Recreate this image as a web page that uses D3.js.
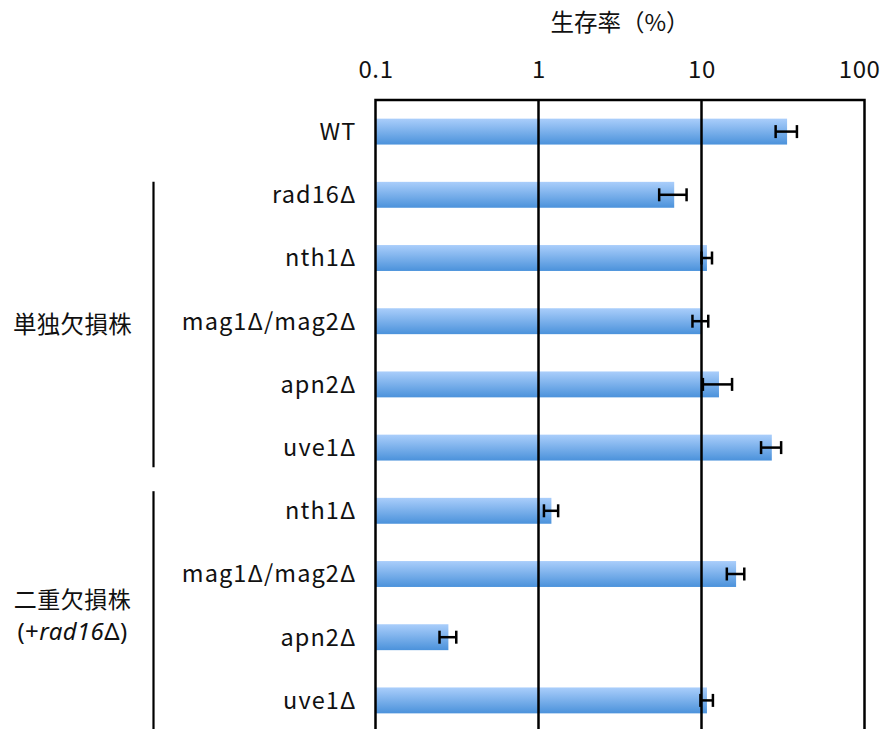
<!DOCTYPE html>
<html>
<head>
<meta charset="utf-8">
<script src="https://cdn.jsdelivr.net/npm/d3@7"></script>
<style>
  html, body { margin: 0; padding: 0; background: #fff; }
  svg text { font-family: "Noto Sans CJK JP", "Noto Sans", sans-serif; fill: #111; }
</style>
</head>
<body>
<svg id="chart" width="884" height="729"></svg>
<script>
// Survival rate (%) per strain, log scale
const strainIds   = ["wt", "rad16", "nth1", "mag", "apn2", "uve1", "nth1-d", "mag-d", "apn2-d", "uve1-d"];
const strainNames = ["WT", "rad16Δ", "nth1Δ", "mag1Δ/mag2Δ", "apn2Δ", "uve1Δ", "nth1Δ", "mag1Δ/mag2Δ", "apn2Δ", "uve1Δ"];
const survival    = [33.5, 6.8, 10.8, 9.9, 12.8, 27.0, 1.2, 16.3, 0.28, 10.8];
const survivalErr = [5.0, 1.3, 0.8, 1.1, 2.6, 3.8, 0.12, 2.0, 0.033, 0.95];
const tickValues  = [0.1, 1, 10, 100];
const tickLabels  = ["0.1", "1", "10", "100"];
const axisTitle   = "生存率（%）";
const groupFirst  = ["rad16", "nth1-d"];
const groupLast   = ["uve1", "uve1-d"];

const W = 884, H = 729;
const svg = d3.select("#chart");
const plotL = 375.5, plotR = 864.5, plotT = 100, plotB = 732;
const labelFont = "23.5px";
const labelSpacing = "1.1px";

const x = d3.scaleLog().domain([0.1, 100]).range([plotL, plotR]);
const y = d3.scaleBand().domain(strainIds).range([plotT, plotB])
  .paddingInner(0.59).paddingOuter(0.295);

// bar gradient
const defs = svg.append("defs");
const grad = defs.append("linearGradient").attr("id", "barGrad")
  .attr("x1", 0).attr("y1", 0).attr("x2", 0).attr("y2", 1);
grad.append("stop").attr("offset", "0%").attr("stop-color", "#aacefb");
grad.append("stop").attr("offset", "100%").attr("stop-color", "#4b92db");

const rows = strainIds.map((id, i) => ({ id, name: strainNames[i], v: survival[i], e: survivalErr[i] }));

// bars
svg.append("g").selectAll("rect").data(rows).join("rect")
  .attr("x", x(0.1))
  .attr("y", d => y(d.id))
  .attr("width", d => x(d.v) - x(0.1))
  .attr("height", y.bandwidth())
  .attr("fill", "url(#barGrad)");

// decade grid lines
svg.append("g").selectAll("line").data(tickValues.slice(1, -1)).join("line")
  .attr("x1", d => x(d)).attr("x2", d => x(d))
  .attr("y1", plotT).attr("y2", plotB)
  .attr("stroke", "#000").attr("stroke-width", 2.5);

// plot frame (left, top, right)
svg.append("path")
  .attr("d", `M${x(0.1)},${plotB}V${plotT}H${x(100)}V${plotB}`)
  .attr("fill", "none").attr("stroke", "#000").attr("stroke-width", 2.5);

// error bars
const eb = svg.append("g").attr("stroke", "#000").attr("stroke-width", 2.5);
rows.forEach(d => {
  const cy = y(d.id) + y.bandwidth() / 2;
  const x0 = x(d.v - d.e), x1 = x(d.v + d.e);
  eb.append("line").attr("x1", x0).attr("x2", x1).attr("y1", cy).attr("y2", cy);
  eb.append("line").attr("x1", x0).attr("x2", x0).attr("y1", cy - 6.5).attr("y2", cy + 6.5);
  eb.append("line").attr("x1", x1).attr("x2", x1).attr("y1", cy - 6.5).attr("y2", cy + 6.5);
});

// top axis labels
const axisG = svg.append("g").attr("transform", `translate(0,${plotT})`)
  .call(d3.axisTop(x).tickValues(tickValues).tickFormat((d, i) => tickLabels[i]).tickSize(0).tickPadding(22));
axisG.select(".domain").remove();
axisG.selectAll("text")
  .style("font-family", '"Noto Sans CJK JP", "Noto Sans", sans-serif')
  .style("font-size", "24px").style("letter-spacing", "0.6px").attr("fill", "#111");
axisG.selectAll(".tick").each(function (d) {
  const t = d3.select(this).select("text");
  const w = t.node().getComputedTextLength();
  const over = x(d) + w / 2 - (W - 4);
  if (over > 0) t.attr("dx", -over);
});

// axis title
svg.append("text").attr("x", (plotL + plotR) / 2).attr("y", 31)
  .attr("text-anchor", "middle").style("font-size", "23.5px").text(axisTitle);

// row labels
svg.append("g").selectAll("text").data(rows).join("text")
  .attr("x", plotL - 19)
  .attr("y", d => y(d.id) + y.bandwidth() / 2)
  .attr("dy", "0.36em")
  .attr("text-anchor", "end")
  .style("font-size", labelFont)
  .style("letter-spacing", labelSpacing)
  .text(d => d.name);

// group brackets
const bx = 153.5;
const mid = (a, b) => (y(a) + y.bandwidth() / 2 + y(b) + y.bandwidth() / 2) / 2;
const gap = mid(groupLast[0], groupFirst[1]);
const b1 = [y(groupFirst[0]), gap - 12];
const b2 = [gap + 12, plotB + 8];
svg.append("g").attr("stroke", "#000").attr("stroke-width", 2.2)
  .selectAll("line").data([b1, b2]).join("line")
  .attr("x1", bx).attr("x2", bx).attr("y1", d => d[0]).attr("y2", d => d[1]);

const gx = 72.5;
svg.append("text").attr("x", gx).attr("y", (b1[0] + b1[1]) / 2).attr("dy", "0.36em")
  .attr("text-anchor", "middle").style("font-size", labelFont).style("letter-spacing", "0.3px")
  .text("単独欠損株");

// two-line label for the double-deletion group
const c2 = (b2[0] + b2[1]) / 2;
svg.append("text").attr("x", gx).attr("y", c2 - 15.5).attr("dy", "0.36em")
  .attr("text-anchor", "middle").style("font-size", "23px").style("letter-spacing", "0.5px")
  .text("二重欠損株");
const l2 = svg.append("text").attr("x", gx).attr("y", c2 + 16).attr("dy", "0.36em")
  .attr("text-anchor", "middle")
  .style("font-family", '"Noto Sans", sans-serif')
  .style("font-size", "24px").style("letter-spacing", "0.4px");
l2.append("tspan").text("(+");
l2.append("tspan").style("font-style", "italic").text("rad16");
l2.append("tspan").text("Δ)");
</script>
</body>
</html>
